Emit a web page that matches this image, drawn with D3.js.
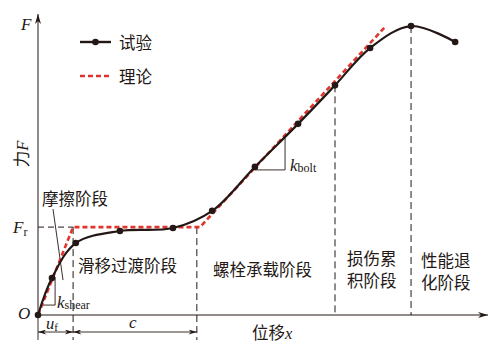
<!DOCTYPE html>
<html><head><meta charset="utf-8">
<script src="https://cdn.jsdelivr.net/npm/d3@7/dist/d3.min.js"></script>
<style>body{margin:0;background:#fff}svg{display:block}</style>
</head><body>
<svg id="c" width="493" height="352"></svg>
<script>
// ---- data (displacement / force in relative units 0..100) ----
const testX = [0, 3.1, 8.4, 18.2, 30.0, 38.7, 48.2, 57.8, 66.0, 73.8, 82.9, 92.7];
const testY = [0, 12.3, 23.9, 27.9, 28.9, 34.6, 49.2, 63.5, 76.3, 88.7, 96.0, 90.7];
const theoryX = [0, 7.8, 36.0, 77.3];
const theoryY = [0, 29.2, 29.2, 96.0];
const Fr = 29.2;
const stageX = [7.8, 35.3, 66.0, 82.9];          // uf, uf+c, damage start, degradation start
const stageTopY = [Fr, Fr, 76.3, 96.0];
const legendLabels = ["试验", "理论"];
const stageLabels = [["摩擦阶段"], ["滑移过渡阶段"], ["螺栓承载阶段"], ["损伤累", "积阶段"], ["性能退", "化阶段"]];

const BLACK = "#231815", RED = "#e0352d";
const CJK = "'Noto Sans CJK SC','Noto Sans',sans-serif";
const SERIF = "'Liberation Serif','DejaVu Serif',serif";

const svg = d3.select("#c");
const x = d3.scaleLinear().domain([0, 100]).range([38, 488]);
const y = d3.scaleLinear().domain([0, 100]).range([315, 14]);

const defs = svg.append("defs");
defs.append("marker").attr("id", "ax").attr("viewBox", "0 0 10 6").attr("refX", 10).attr("refY", 3)
  .attr("markerWidth", 12).attr("markerHeight", 6).attr("markerUnits", "userSpaceOnUse").attr("orient", "auto")
  .append("path").attr("d", "M0,0 L10,3 L0,6 L3,3 Z").attr("fill", BLACK);
defs.append("marker").attr("id", "dim").attr("viewBox", "0 0 10 6").attr("refX", 10).attr("refY", 3)
  .attr("markerWidth", 10).attr("markerHeight", 5).attr("markerUnits", "userSpaceOnUse").attr("orient", "auto-start-reverse")
  .append("path").attr("d", "M0,0 L10,3 L0,6 L3,3 Z").attr("fill", BLACK);

// axes
svg.append("line").attr("x1", x(0)).attr("y1", y(0)).attr("x2", x(0)).attr("y2", y(100))
  .attr("stroke", BLACK).attr("stroke-width", 1).attr("marker-end", "url(#ax)");
svg.append("line").attr("x1", x(0)).attr("y1", y(0)).attr("x2", x(100)).attr("y2", y(0))
  .attr("stroke", BLACK).attr("stroke-width", 1).attr("marker-end", "url(#ax)");

// Fr dashed guide
svg.append("line").attr("x1", x(0)).attr("x2", x(stageX[0])).attr("y1", y(Fr)).attr("y2", y(Fr))
  .attr("stroke", BLACK).attr("stroke-width", 1).attr("stroke-dasharray", "6,4");

// stage dashed verticals
stageX.forEach((sx, i) => {
  const bottom = i < 2 ? 340 : y(0);
  svg.append("line").attr("x1", x(sx)).attr("x2", x(sx)).attr("y1", y(stageTopY[i])).attr("y2", bottom)
    .attr("stroke", BLACK).attr("stroke-width", 1).attr("stroke-dasharray", "7,4");
});
svg.append("line").attr("x1", x(0)).attr("x2", x(0)).attr("y1", y(0)).attr("y2", 340)
  .attr("stroke", BLACK).attr("stroke-width", 0.9);

// dimension arrows
[[0, stageX[0]], [stageX[0], stageX[1]]].forEach(([a, b]) => {
  svg.append("line").attr("x1", x(a)).attr("x2", x(b)).attr("y1", 332).attr("y2", 332)
    .attr("stroke", BLACK).attr("stroke-width", 0.9)
    .attr("marker-start", "url(#dim)").attr("marker-end", "url(#dim)");
});

// slope triangles
const tri = (x1, x2, yb, yt) => svg.append("path")
  .attr("d", `M${x1},${yb} L${x2},${yb} L${x2},${yt}`).attr("fill", "none")
  .attr("stroke", BLACK).attr("stroke-width", 0.9);
tri(x(1.1), x(3.8), y(3.3), y(12.6));
tri(x(48.2), x(54.9), y(48.2), y(58.8));

// leader line for 摩擦阶段
svg.append("line").attr("x1", 53).attr("y1", 209).attr("x2", 63).attr("y2", 280)
  .attr("stroke", BLACK).attr("stroke-width", 0.9);

// theory line
const theory = theoryX.map((v, i) => [v, theoryY[i]]);
svg.append("path").datum(theory)
  .attr("d", d3.line().x(d => x(d[0])).y(d => y(d[1])))
  .attr("fill", "none").attr("stroke", RED).attr("stroke-width", 2.6).attr("stroke-dasharray", "5,3");

// test curve
const test = testX.map((v, i) => [v, testY[i]]);
svg.append("path").datum(test)
  .attr("d", d3.line().x(d => x(d[0])).y(d => y(d[1])).curve(d3.curveCatmullRom.alpha(0.5)))
  .attr("fill", "none").attr("stroke", BLACK).attr("stroke-width", 2.2);
svg.selectAll("circle.pt").data(test).enter().append("circle").attr("class", "pt")
  .attr("cx", d => x(d[0])).attr("cy", d => y(d[1])).attr("r", 3.3).attr("fill", BLACK);

// legend
svg.append("line").attr("x1", 80).attr("x2", 111).attr("y1", 42).attr("y2", 42)
  .attr("stroke", BLACK).attr("stroke-width", 2.4);
svg.append("circle").attr("cx", 95.5).attr("cy", 42).attr("r", 3.3).attr("fill", BLACK);
svg.append("line").attr("x1", 80).attr("x2", 111).attr("y1", 76).attr("y2", 76)
  .attr("stroke", RED).attr("stroke-width", 2.6).attr("stroke-dasharray", "5,3");
legendLabels.forEach((t, i) => svg.append("text").attr("x", 119).attr("y", 42 + 34 * i)
  .attr("dominant-baseline", "central").attr("font-family", CJK).attr("font-size", 16.5)
  .attr("fill", BLACK).text(t));

// axis labels
const T = (xx, yy, s, fam, size, extra) => {
  const t = svg.append("text").attr("x", xx).attr("y", yy).attr("font-family", fam)
    .attr("font-size", size).attr("fill", BLACK);
  if (extra) extra(t);
  return t.text(s);
};
T(21, 30, "F", SERIF, 17, t => t.attr("font-style", "italic"));
T(18, 319, "O", SERIF, 17, t => t.attr("font-style", "italic"));
const fr = svg.append("text").attr("x", 13).attr("y", 233).attr("font-family", SERIF).attr("font-size", 17).attr("fill", BLACK);
fr.append("tspan").attr("font-style", "italic").text("F");
fr.append("tspan").attr("font-size", 12).attr("dy", 3).text("r");

// rotated 力F
const yl = svg.append("text").attr("transform", "translate(28,154) rotate(-90)")
  .attr("text-anchor", "middle").attr("font-size", 16.5).attr("fill", BLACK);
yl.append("tspan").attr("font-family", CJK).text("力");
yl.append("tspan").attr("font-family", SERIF).attr("font-style", "italic").text("F");

// x label
const xl = svg.append("text").attr("x", 252).attr("y", 339).attr("font-size", 16.5).attr("fill", BLACK);
xl.append("tspan").attr("font-family", CJK).text("位移");
xl.append("tspan").attr("font-family", SERIF).attr("font-style", "italic").text("x");

// uf, c
const uf = svg.append("text").attr("x", 46).attr("y", 329).attr("font-family", SERIF).attr("font-size", 16.5).attr("fill", BLACK);
uf.append("tspan").attr("font-style", "italic").text("u");
uf.append("tspan").attr("font-size", 11).attr("dy", 2).text("f");
T(129, 328, "c", SERIF, 17, t => t.attr("font-style", "italic"));

// k labels
const ks = svg.append("text").attr("x", 57).attr("y", 308).attr("font-family", SERIF).attr("font-size", 17).attr("fill", BLACK);
ks.append("tspan").attr("font-style", "italic").text("k");
ks.append("tspan").attr("font-size", 12).attr("dy", 1).text("shear");
const kb = svg.append("text").attr("x", 290).attr("y", 171).attr("font-family", SERIF).attr("font-size", 17).attr("fill", BLACK);
kb.append("tspan").attr("font-style", "italic").text("k");
kb.append("tspan").attr("font-size", 12).attr("dy", 1).text("bolt");

// stage labels
const stagePos = [[42, 198], [78, 265], [213, 269], [347, 258], [421, 260]];
stageLabels.forEach((lines, i) => {
  lines.forEach((s, j) => svg.append("text").attr("x", stagePos[i][0]).attr("y", stagePos[i][1] + 22 * j)
    .attr("dominant-baseline", "central").attr("font-family", CJK).attr("font-size", 16.5)
    .attr("fill", BLACK).text(s));
});
</script>
</body></html>
